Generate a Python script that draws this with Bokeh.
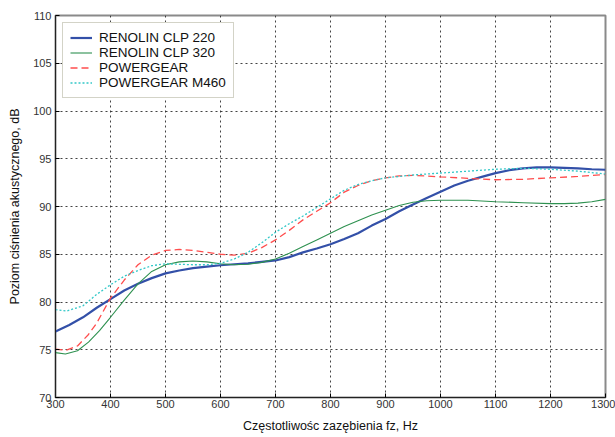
from bokeh.plotting import figure
from bokeh.embed import file_html
from bokeh.resources import INLINE
from bokeh.models import FixedTicker, Legend, LegendItem, Range1d

# Frequencies (Hz) and levels (dB)
f_blue = [300, 325, 350, 375, 400, 425, 450, 475, 500, 525, 550, 575, 600, 625, 650, 675, 700, 725, 750,
          775, 800, 825, 850, 875, 900, 925, 950, 975, 1000, 1025, 1050, 1075, 1100, 1125, 1150, 1175,
          1200, 1225, 1250, 1275, 1300]
renolin_220 = [76.9, 77.6, 78.4, 79.4, 80.3, 81.2, 81.9, 82.5, 83.0, 83.3, 83.55, 83.7, 83.85, 83.95, 84.05,
               84.2, 84.35, 84.7, 85.2, 85.6, 86.05, 86.6, 87.2, 88.0, 88.7, 89.5, 90.2, 90.9, 91.55, 92.2,
               92.7, 93.1, 93.5, 93.8, 94.0, 94.1, 94.1, 94.05, 94.0, 93.9, 93.85]

f_green = [300, 318, 340, 360, 380, 400, 425, 450, 475, 500, 525, 550, 575, 600, 625, 650, 675, 700, 725,
           750, 775, 800, 825, 850, 875, 900, 925, 950, 975, 1000, 1050, 1100, 1150, 1200, 1225, 1250, 1275, 1300]
renolin_320 = [74.7, 74.55, 74.9, 75.8, 77.0, 78.4, 80.2, 81.9, 83.2, 83.9, 84.2, 84.3, 84.2, 84.0, 83.9,
               83.95, 84.15, 84.5, 85.1, 85.8, 86.5, 87.2, 87.9, 88.5, 89.1, 89.6, 90.1, 90.45, 90.6, 90.65,
               90.65, 90.5, 90.4, 90.3, 90.3, 90.35, 90.5, 90.75]

f_red = [300, 320, 340, 360, 375, 400, 425, 450, 475, 500, 525, 550, 575, 600, 625, 650, 675, 700, 725,
         750, 775, 800, 825, 850, 875, 900, 925, 950, 975, 1000, 1050, 1100, 1150, 1200, 1250, 1300]
powergear = [75.05, 74.95, 75.4, 76.6, 77.8, 80.4, 82.3, 83.9, 84.9, 85.4, 85.5, 85.4, 85.2, 85.0, 84.9,
             85.1, 85.7, 86.5, 87.5, 88.6, 89.5, 90.4, 91.5, 92.2, 92.7, 93.0, 93.2, 93.25, 93.2, 93.1,
             92.95, 92.8, 92.85, 93.0, 93.15, 93.35]

f_cyan = [300, 320, 350, 375, 400, 425, 450, 475, 500, 525, 550, 575, 600, 625, 650, 675, 700, 725, 750,
          775, 800, 825, 850, 875, 900, 950, 1000, 1050, 1100, 1150, 1200, 1250, 1300]
powergear_m460 = [79.2, 79.05, 79.6, 80.8, 81.8, 82.7, 83.3, 83.8, 84.0, 83.95, 83.9, 83.9, 84.05, 84.5,
                  85.2, 86.2, 87.3, 88.2, 89.0, 89.9, 90.8, 91.7, 92.3, 92.7, 93.0, 93.3, 93.5, 93.7, 93.9,
                  94.0, 93.9, 93.7, 93.4]

x_ticks = list(range(300, 1301, 100))
y_ticks = list(range(70, 111, 5))

FONT = "Liberation Sans"

p = figure(width=615, height=437, output_backend="svg", toolbar_location=None,
           x_range=Range1d(300, 1300), y_range=Range1d(70, 110),
           min_border_left=55, min_border_right=10, min_border_top=15, min_border_bottom=40)
p.background_fill_color = "white"
p.border_fill_color = "white"
p.outline_line_color = "#8a8a8a"
p.outline_line_width = 2

r1 = p.line(f_blue, renolin_220, line_color="#3350A8", line_width=2.2)
r2 = p.line(f_green, renolin_320, line_color="#2E9150", line_width=1.1)
r3 = p.line(f_red, powergear, line_color="#FF4D4D", line_width=1.3, line_dash="7 4")
r4 = p.line(f_cyan, powergear_m460, line_color="#33C8C8", line_width=1.3, line_dash="2 2")

for ax in (p.xaxis[0], p.yaxis[0]):
    ax.axis_line_color = "#222222"
    ax.major_tick_in = 4
    ax.major_tick_out = 0
    ax.minor_tick_line_color = None
    ax.major_label_text_font = FONT
    ax.major_label_text_font_size = "11px"
    ax.major_label_text_color = "#333333"
    ax.axis_label_text_font = FONT
    ax.axis_label_text_font_size = "12.5px"
    ax.axis_label_text_font_style = "normal"
    ax.axis_label_text_color = "#111111"

p.xaxis.ticker = FixedTicker(ticks=x_ticks)
p.yaxis.ticker = FixedTicker(ticks=y_ticks)
p.xaxis.axis_label = "Częstotliwośc zazębienia fz, Hz"
p.yaxis.axis_label = "Poziom ciśnienia akustycznego, dB"
p.xaxis.major_label_standoff = 2
p.yaxis.major_label_standoff = 4
p.xaxis.axis_label_standoff = 8
p.yaxis.axis_label_standoff = 8

for g in (p.xgrid[0], p.ygrid[0]):
    g.grid_line_color = "#222222"
    g.grid_line_dash = "2 3"
    g.grid_line_width = 1
    g.grid_line_alpha = 0.85

legend = Legend(items=[
    LegendItem(label="RENOLIN CLP 220", renderers=[r1]),
    LegendItem(label="RENOLIN CLP 320", renderers=[r2]),
    LegendItem(label="POWERGEAR", renderers=[r3]),
    LegendItem(label="POWERGEAR M460", renderers=[r4]),
], location="top_left")
legend.margin = 7
legend.padding = 7
legend.spacing = 0
legend.label_height = 15
legend.glyph_height = 15
legend.glyph_width = 22
legend.label_text_font = FONT
legend.label_text_font_size = "13.5px"
legend.label_text_color = "#111111"
legend.label_standoff = 7
legend.border_line_color = "#A8A890"
legend.border_line_width = 1.5
legend.background_fill_alpha = 1
p.add_layout(legend)

open("out.html", "w").write(file_html(p, INLINE))
